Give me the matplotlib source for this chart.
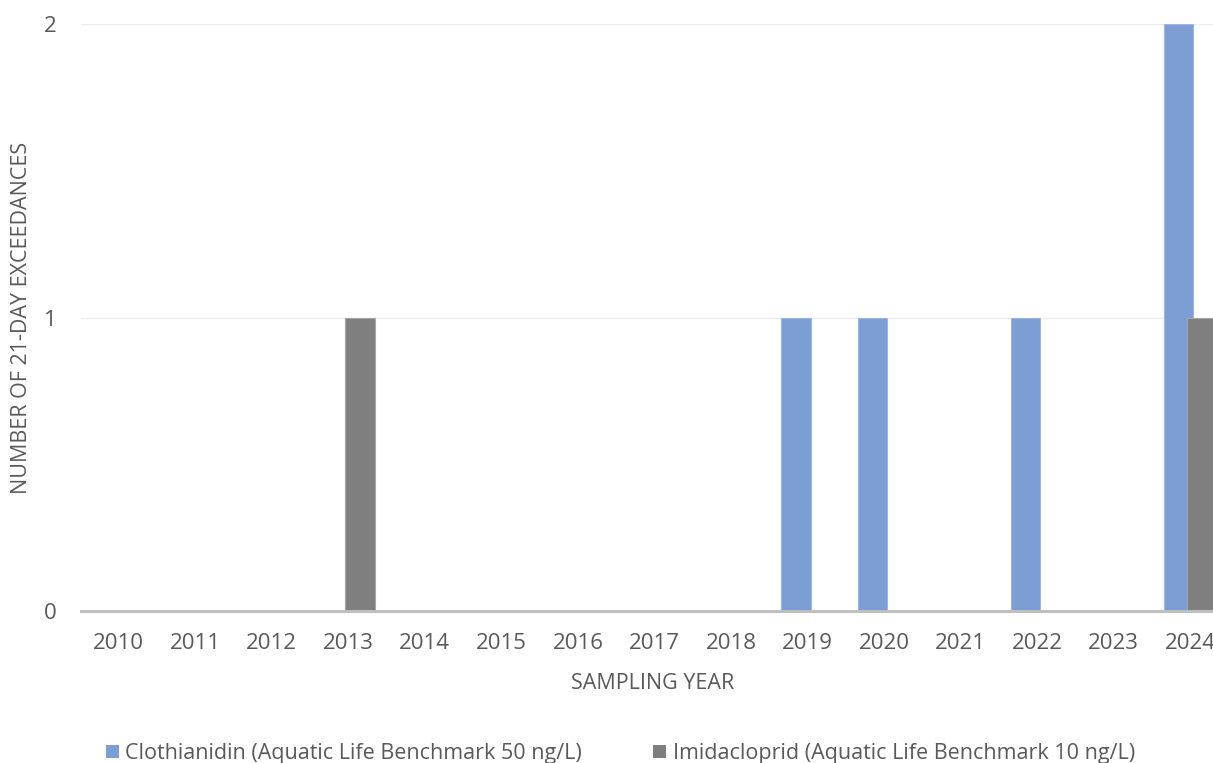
import numpy as np
import matplotlib
matplotlib.use('Agg')
import matplotlib.pyplot as plt
from matplotlib.patches import Patch

years = ['2010', '2011', '2012', '2013', '2014', '2015', '2016', '2017',
         '2018', '2019', '2020', '2021', '2022', '2023', '2024']
clothianidin = [0, 0, 0, 0, 0, 0, 0, 0, 0, 1, 1, 0, 1, 0, 2]
imidacloprid = [0, 0, 0, 1, 0, 0, 0, 0, 0, 0, 0, 0, 0, 0, 1]
series_labels = ['Clothianidin (Aquatic Life Benchmark 50 ng/L)',
                 'Imidacloprid (Aquatic Life Benchmark 10 ng/L)']

blue = '#7D9DD5'
grey = '#7F7F7F'
text_col = '#595959'

plt.rcParams['font.family'] = ['Open Sans', 'DejaVu Sans']

fig = plt.figure(figsize=(12.13, 7.63), dpi=100)
ax = fig.add_axes([0.0664, 0.1992, 0.9336, 0.7693])

x = np.arange(len(years))
w = 0.386      # bar width in category units
off = 0.153    # bars overlap a little, excel style

ax.bar(x - off, clothianidin, w, color=blue, edgecolor='#9DB5E2', linewidth=0.8, zorder=2)
ax.bar(x + off, imidacloprid, w, color=grey, edgecolor='#A6A6A6', linewidth=0.8, zorder=3)

ax.set_xlim(-0.5, 14.30)
ax.set_ylim(0, 2)
ax.set_yticks([0, 1, 2])
ax.set_xticks(x)
ax.set_xticklabels(years)

ax.grid(axis='y', color='#EDEDED', linewidth=1, zorder=0)
ax.set_axisbelow(True)
for s in ['top', 'right', 'left']:
    ax.spines[s].set_visible(False)
ax.spines['bottom'].set_color('#BFBFBF')
ax.spines['bottom'].set_linewidth(2.2)
ax.spines['bottom'].set_zorder(4)

ax.tick_params(axis='both', length=0, labelsize=16, labelcolor=text_col)
ax.tick_params(axis='y', pad=17)
ax.tick_params(axis='x', pad=16)

ax.set_xlabel('SAMPLING YEAR', fontsize=15.5, color=text_col)
ax.set_ylabel('NUMBER OF 21-DAY EXCEEDANCES', fontsize=15.5, color=text_col)
ax.xaxis.label.set_va('center')
ax.yaxis.label.set_va('center')
ax.xaxis.set_label_coords(0.5055, -0.1227)
ax.yaxis.set_label_coords(-0.0517, 0.5)

handles = [Patch(facecolor=blue, edgecolor='none'), Patch(facecolor=grey, edgecolor='none')]
fig.legend(handles, series_labels, loc='center', bbox_to_anchor=(0.5115, 0.0125),
           ncol=2, frameon=False, labelcolor=text_col,
           handlelength=0.6, handleheight=0.55, handletextpad=0.3, columnspacing=3.3,
           prop={'family': ['Open Sans', 'DejaVu Sans'], 'size': 15.5})

fig.savefig('out.png', dpi=100)
